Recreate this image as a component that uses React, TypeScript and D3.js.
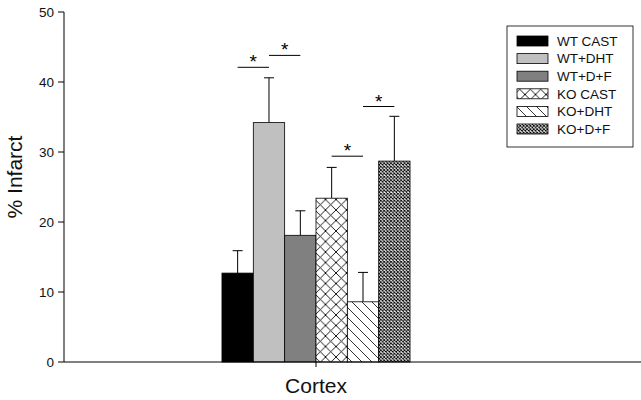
import React from 'react';
import * as d3 from 'd3';

// data
const groups = ['Cortex'];
const series = ['WT CAST', 'WT+DHT', 'WT+D+F', 'KO CAST', 'KO+DHT', 'KO+D+F'];
const means = [12.7, 34.2, 18.1, 23.4, 8.6, 28.7];
const errors = [3.2, 6.4, 3.5, 4.4, 4.2, 6.4];
const fills = ['#000000', '#c0c0c0', '#808080', 'url(#xhatch)', 'url(#bslash)', 'url(#fine)'];
const yTicks = [0, 10, 20, 30, 40, 50];
// significance brackets: from bar index to bar index, at height
const sigFrom = [0, 1, 3, 4];
const sigTo = [1, 2, 4, 5];
const sigLevel = [42.1, 43.8, 29.4, 36.5];

const W = 641;
const H = 400;
const left = 64;
const right = 568;
const top = 12;
const bottom = 362;

export default function App() {
  const y = d3.scaleLinear().domain([0, 50]).range([bottom, top]);
  const x0 = d3.scaleBand().domain(groups).range([left, right]).paddingInner(0).paddingOuter(0.84);
  const x1 = d3.scaleBand().domain(series).range([0, x0.bandwidth()]).padding(0);
  const gx = x0('Cortex') as number;
  const bw = x1.bandwidth();
  const cx = (i: number) => gx + (x1(series[i]) as number) + bw / 2;
  const font = 'Liberation Sans, Arial, sans-serif';

  return (
    <svg width={W} height={H} style={{ position: 'absolute', left: 0, top: 0 }}>
      <defs>
        <pattern id="xhatch" patternUnits="userSpaceOnUse" width={10.5} height={10.5}>
          <rect width={10.5} height={10.5} fill="#fff" />
          <path d="M0,0 L10.5,10.5 M10.5,0 L0,10.5" stroke="#000" strokeWidth={0.9} />
        </pattern>
        <pattern id="bslash" patternUnits="userSpaceOnUse" width={10} height={10}>
          <rect width={10} height={10} fill="#fff" />
          <path d="M0,0 L10,10 M-5,5 L0,10 M5,-5 L15,5" stroke="#000" strokeWidth={0.8} />
        </pattern>
        <pattern id="fine" patternUnits="userSpaceOnUse" width={3.4} height={3.4}>
          <rect width={3.4} height={3.4} fill="#fff" />
          <path d="M0,0 L3.4,3.4 M3.4,0 L0,3.4" stroke="#000" strokeWidth={0.9} />
        </pattern>
      </defs>
      <rect width={W} height={H} fill="#fff" />

      {/* y axis */}
      <line x1={left} x2={left} y1={top} y2={bottom} stroke="#000" />
      {yTicks.map((t) => (
        <g key={t}>
          <line x1={left - 6} x2={left} y1={y(t)} y2={y(t)} stroke="#000" />
          <text x={left - 10} y={y(t)} dy="0.35em" textAnchor="end" fontFamily={font} fontSize={13.5} fill="#111">
            {t}
          </text>
        </g>
      ))}
      <text
        transform="translate(22,177) rotate(-90)"
        textAnchor="middle"
        fontFamily={font}
        fontSize={21}
        fill="#111"
      >
        % Infarct
      </text>

      {/* bars */}
      {series.map((s, i) => {
        const x = gx + (x1(s) as number);
        return (
          <g key={s}>
            <line x1={cx(i)} x2={cx(i)} y1={y(means[i])} y2={y(means[i] + errors[i])} stroke="#000" />
            <line x1={cx(i) - 5} x2={cx(i) + 5} y1={y(means[i] + errors[i])} y2={y(means[i] + errors[i])} stroke="#000" />
            <rect x={x} y={y(means[i])} width={bw} height={bottom - y(means[i])} fill={fills[i]} stroke="#000" strokeWidth={0.8} />
          </g>
        );
      })}

      {/* significance */}
      {sigFrom.map((a, k) => {
        const b = sigTo[k];
        const yy = y(sigLevel[k]);
        return (
          <g key={k}>
            <line x1={cx(a)} x2={cx(b)} y1={yy} y2={yy} stroke="#000" />
            <text x={(cx(a) + cx(b)) / 2} y={yy + 1} textAnchor="middle" fontFamily={font} fontSize={19} fill="#000">
              *
            </text>
          </g>
        );
      })}

      {/* x axis */}
      <line x1={left} x2={W} y1={bottom} y2={bottom} stroke="#000" />
      <line x1={gx + x0.bandwidth() / 2} x2={gx + x0.bandwidth() / 2} y1={bottom} y2={bottom + 5} stroke="#000" />
      <text x={gx + x0.bandwidth() / 2} y={393} textAnchor="middle" fontFamily={font} fontSize={21} fill="#111">
        Cortex
      </text>

      {/* legend */}
      <rect x={507} y={26} width={126} height={121} fill="#fff" stroke="#000" strokeWidth={0.8} />
      {series.map((s, i) => {
        const ly = 36 + i * 17.6;
        return (
          <g key={s}>
            <rect x={517} y={ly} width={31} height={10} fill={fills[i]} stroke="#000" strokeWidth={0.8} />
            <text x={557} y={ly + 5} dy="0.35em" fontFamily={font} fontSize={13.5} fill="#111">
              {s}
            </text>
          </g>
        );
      })}
    </svg>
  );
}
